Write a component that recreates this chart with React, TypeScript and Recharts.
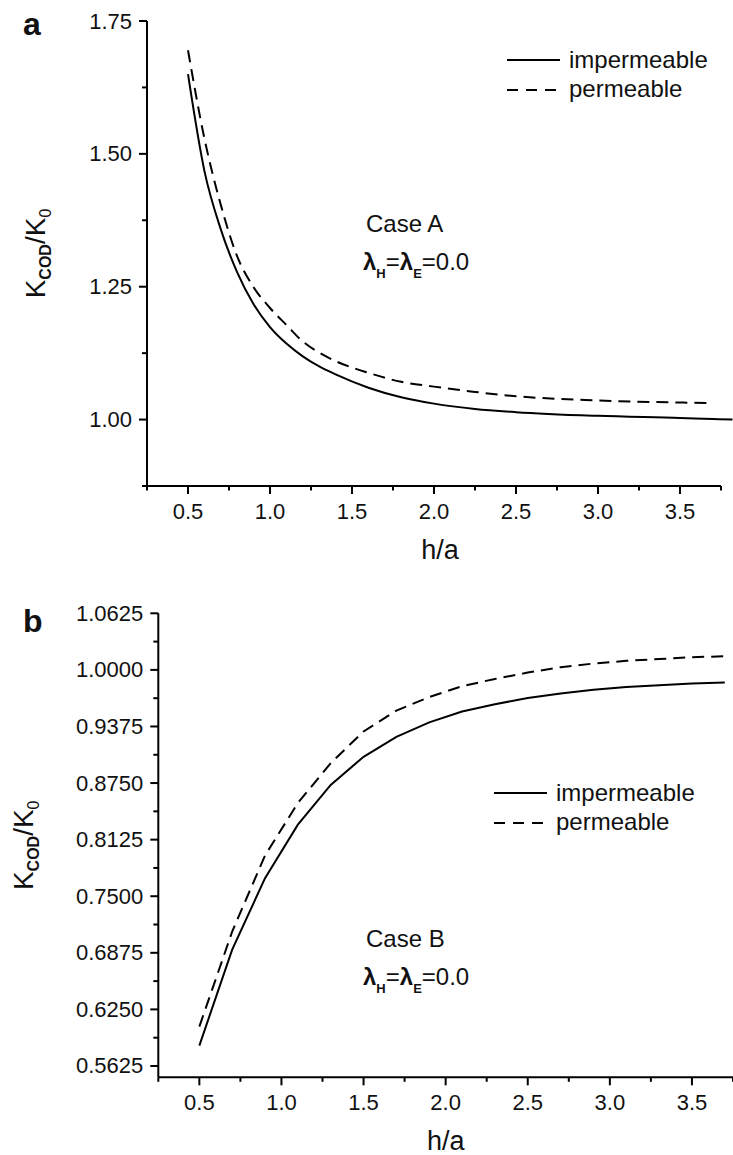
import React from 'react';
import { LineChart, Line, XAxis, YAxis, Legend, ReferenceLine, Customized } from 'recharts';

// panel a (Case A)
const hA = [0.5, 0.6, 0.7, 0.8, 0.9, 1.0, 1.1, 1.2, 1.3, 1.4, 1.6, 1.8, 2.0, 2.25, 2.5, 3.0, 3.5, 3.7, 3.82];
const impermeableA = [1.65, 1.468, 1.358, 1.277, 1.217, 1.174, 1.143, 1.119, 1.1, 1.085, 1.06, 1.042, 1.03, 1.02, 1.014, 1.007, 1.003, 1.001, 1.0];
const permeableA = [1.695, 1.529, 1.404, 1.307, 1.249, 1.21, 1.178, 1.147, 1.126, 1.11, 1.088, 1.071, 1.062, 1.052, 1.044, 1.036, 1.032, 1.031, null];

// panel b (Case B)
const hB = [0.5, 0.7, 0.9, 1.1, 1.3, 1.5, 1.7, 1.9, 2.1, 2.3, 2.5, 2.7, 2.9, 3.1, 3.3, 3.5, 3.7];
const impermeableB = [0.585, 0.691, 0.77, 0.829, 0.873, 0.904, 0.926, 0.942, 0.954, 0.962, 0.969, 0.974, 0.978, 0.981, 0.983, 0.985, 0.986];
const permeableB = [0.606, 0.711, 0.795, 0.853, 0.897, 0.932, 0.955, 0.97, 0.982, 0.99, 0.997, 1.003, 1.007, 1.01, 1.012, 1.014, 1.015];

const xTicks = [0.25, 0.5, 0.75, 1.0, 1.25, 1.5, 1.75, 2.0, 2.25, 2.5, 2.75, 3.0, 3.25, 3.5, 3.75];
const xLabels = [0.5, 1.0, 1.5, 2.0, 2.5, 3.0, 3.5];
const yTicksA = [0.875, 1.0, 1.125, 1.25, 1.375, 1.5, 1.625, 1.75];
const yLabelsA = [1.0, 1.25, 1.5, 1.75];
const yTicksB = [0.5625, 0.59375, 0.625, 0.65625, 0.6875, 0.71875, 0.75, 0.78125, 0.8125, 0.84375, 0.875, 0.90625, 0.9375, 0.96875, 1.0, 1.03125, 1.0625];
const yLabelsB = [0.5625, 0.625, 0.6875, 0.75, 0.8125, 0.875, 0.9375, 1.0, 1.0625];

const FONT = '"Liberation Sans", Arial, Helvetica, sans-serif';
const DASH = '12 7';

const rowsA = hA.map((h, i) => ({ h, impermeable: impermeableA[i], permeable: permeableA[i] }));
const rowsB = hB.map((h, i) => ({ h, impermeable: impermeableB[i], permeable: permeableB[i] }));

const has = (list: number[], v: number) => list.some(t => Math.abs(t - v) < 1e-9);

const XTick = (props: any) => {
  const { x, y, payload } = props;
  const major = has(xLabels, payload.value);
  return (
    <g>
      <line x1={x} x2={x} y1={y} y2={y + (major ? 8 : 4.5)} stroke="#000" strokeWidth={2} />
      {major && (
        <text x={x} y={y + 32.5} textAnchor="middle" fontSize={22} fontFamily={FONT} fill="#111">
          {payload.value.toFixed(1)}
        </text>
      )}
    </g>
  );
};

const makeYTick = (labels: number[], digits: number) => (props: any) => {
  const { x, y, payload } = props;
  const major = has(labels, payload.value);
  return (
    <g>
      <line x1={x} x2={x - (major ? 8 : 5)} y1={y} y2={y} stroke="#000" strokeWidth={2} />
      {major && (
        <text x={x - 15} y={y + 7.5} textAnchor="end" fontSize={22} fontFamily={FONT} fill="#111">
          {payload.value.toFixed(digits)}
        </text>
      )}
    </g>
  );
};

const YTickA = makeYTick(yLabelsA, 2);
const YTickB = makeYTick(yLabelsB, 4);

const yTitle = (bx: number) => (props: any) => {
  const vb = props.viewBox;
  const cy = vb.y + vb.height / 2;
  return (
    <text x={bx} y={cy} transform={`rotate(-90, ${bx}, ${cy})`} textAnchor="middle" fontSize={28} fontFamily={FONT} fill="#111">
      K<tspan fontSize={16} fontWeight="bold" dy={6}>COD</tspan>
      <tspan dy={-6}>/K</tspan>
      <tspan fontSize={16} dy={6}>0</tspan>
    </text>
  );
};

const xTitle = (props: any) => {
  const vb = props.viewBox;
  return (
    <text x={vb.x + vb.width / 2} y={vb.y + 73} textAnchor="middle" fontSize={27} fontFamily={FONT} fill="#111">
      h/a
    </text>
  );
};

const renderLegend = () => (
  <svg width={240} height={56} style={{ display: 'block' }}>
    <line x1={0} x2={53} y1={14} y2={14} stroke="#000" strokeWidth={2} />
    <text x={62} y={22} fontSize={24} fontFamily={FONT} fill="#111">impermeable</text>
    <line x1={0} x2={51} y1={44} y2={44} stroke="#000" strokeWidth={2} strokeDasharray="11 8" />
    <text x={62} y={51} fontSize={24} fontFamily={FONT} fill="#111">permeable</text>
  </svg>
);

const Note = ({ x, y, caseName }: { x: number; y: number; caseName: string }) => (
  <g fontFamily={FONT} fill="#111">
    <text x={x + 3} y={y} fontSize={24}>{caseName}</text>
    <text x={x} y={y + 38} fontSize={24}>
      <tspan fontWeight="bold">λ</tspan>
      <tspan fontSize={13} fontWeight="bold" dy={8}>H</tspan>
      <tspan dy={-8}>=</tspan>
      <tspan fontWeight="bold">λ</tspan>
      <tspan fontSize={13} fontWeight="bold" dy={8}>E</tspan>
      <tspan dy={-8}>=0.0</tspan>
    </text>
  </g>
);

export default function App() {
  return (
    <div style={{ position: 'absolute', left: 0, top: 0, width: 733, height: 1155, background: '#fff', overflow: 'hidden' }}>
      <div style={{ position: 'absolute', left: 0, top: 0 }}>
        <LineChart width={733} height={580} data={rowsA} margin={{ top: 21, right: 0, bottom: 34, left: 87 }}>
          <XAxis
            type="number"
            dataKey="h"
            domain={[0.25, 3.823]}
            ticks={xTicks}
            interval={0}
            tick={XTick}
            tickSize={0}
            tickMargin={0}
            tickLine={false}
            axisLine={false}
            height={60}
            label={{ content: xTitle }}
          />
          <YAxis
            type="number"
            domain={[0.875, 1.75]}
            ticks={yTicksA}
            interval={0}
            tick={YTickA}
            tickSize={0}
            tickMargin={0}
            tickLine={false}
            axisLine={{ stroke: '#000', strokeWidth: 2 }}
            width={60}
            label={{ content: yTitle(45) }}
          />
          <ReferenceLine segment={[{ x: 0.25, y: 0.875 }, { x: 3.75, y: 0.875 }]} stroke="#000" strokeWidth={2} />
          <Line type="monotone" dataKey="impermeable" stroke="#000" strokeWidth={2} dot={false} isAnimationActive={false} />
          <Line type="monotone" dataKey="permeable" stroke="#000" strokeWidth={2} strokeDasharray={DASH} dot={false} isAnimationActive={false} />
          <Legend
            layout="horizontal"
            verticalAlign="middle"
            align="center"
            content={renderLegend}
            wrapperStyle={{ position: 'absolute', left: 507, top: 46, width: 240, height: 56 }}
          />
          <Customized
            component={() => (
              <g>
                <text x={23} y={35} fontSize={32} fontWeight="bold" fontFamily={FONT} fill="#111">a</text>
                <Note x={363} y={232} caseName="Case A" />
              </g>
            )}
          />
        </LineChart>
      </div>
      <div style={{ position: 'absolute', left: 0, top: 580 }}>
        <LineChart width={733} height={575} data={rowsB} margin={{ top: 33.3, right: 0, bottom: 17.7, left: 98.3 }}>
          <XAxis
            type="number"
            dataKey="h"
            domain={[0.25, 3.75]}
            ticks={xTicks}
            interval={0}
            tick={XTick}
            tickSize={0}
            tickMargin={0}
            tickLine={false}
            axisLine={{ stroke: '#000', strokeWidth: 2 }}
            height={60}
            label={{ content: xTitle }}
          />
          <YAxis
            type="number"
            domain={[0.55, 1.0625]}
            ticks={yTicksB}
            interval={0}
            tick={YTickB}
            tickSize={0}
            tickMargin={0}
            tickLine={false}
            axisLine={{ stroke: '#000', strokeWidth: 2 }}
            width={60}
            label={{ content: yTitle(33) }}
          />
          <Line type="linear" dataKey="impermeable" stroke="#000" strokeWidth={2} dot={false} isAnimationActive={false} />
          <Line type="linear" dataKey="permeable" stroke="#000" strokeWidth={2} strokeDasharray={DASH} dot={false} isAnimationActive={false} />
          <Legend
            layout="horizontal"
            verticalAlign="middle"
            align="center"
            content={renderLegend}
            wrapperStyle={{ position: 'absolute', left: 494, top: 199, width: 240, height: 56 }}
          />
          <Customized
            component={() => (
              <g>
                <text x={23} y={52} fontSize={32} fontWeight="bold" fontFamily={FONT} fill="#111">b</text>
                <Note x={363} y={367} caseName="Case B" />
              </g>
            )}
          />
        </LineChart>
      </div>
    </div>
  );
}
